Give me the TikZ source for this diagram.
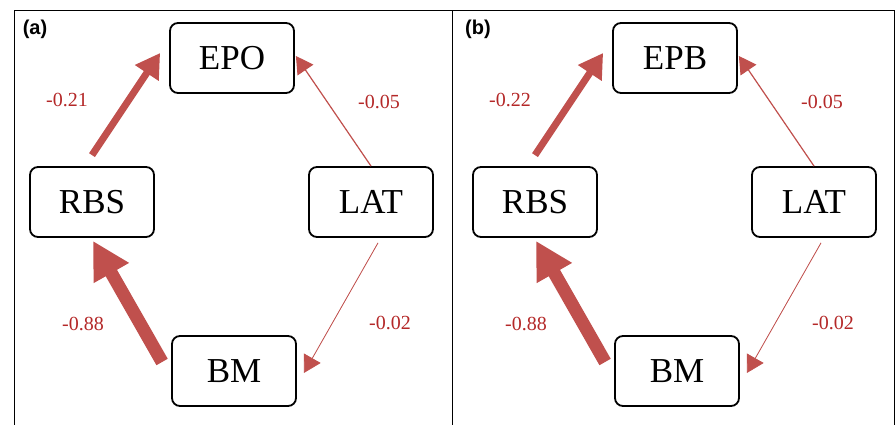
\documentclass[tikz,border=0pt]{standalone}
\usepackage{fontspec}
\setmainfont{Liberation Serif}
\newfontfamily\panelfont{Liberation Sans}
\usetikzlibrary{arrows.meta,positioning}
\definecolor{pathred}{RGB}{192,80,77}
\definecolor{coefred}{RGB}{180,40,40}

\begin{document}
\begin{tikzpicture}[x=1pt,y=1pt,
	var/.style={draw,rounded corners=8pt,line width=1.8pt,minimum width=124pt,minimum height=70pt,inner sep=0pt,font=\fontsize{35}{40}\selectfont},
	coef/.style={text=coefred,font=\fontsize{20}{24}\selectfont},
	link/.style={draw=pathred,fill=pathred}]
	\useasboundingbox (0,0) rectangle (896,425);
	% frame
	\draw[line width=1pt] (14,0) -- (14,414) -- (894,414) -- (894,0);
	\draw[line width=1pt] (452,414) -- (452,0);
	\foreach \p/\dx/\outc/\wa in {a/0/EPO/-0.21, b/443/EPB/-0.22}
	{
		\begin{scope}[xshift=\dx pt]
			\node[font=\panelfont\bfseries\fontsize{20}{22}\selectfont] (tag\p) at (35,396) {(\p)};
			\node[var] (out\p) at (232,367) {\outc};
			\node[var] (rbs\p) at (92,223) {RBS};
			\node[var] (lat\p) at (371,223) {LAT};
			\node[var] (bm\p) at (234,54) {BM};
			\draw[link,line width=7pt,-{Triangle[length=24pt,width=27pt]}] ([yshift=11pt]rbs\p.north) -- ([xshift=-9pt,yshift=5pt]out\p.west);
			\draw[link,line width=1.2pt,-{Triangle[length=17pt,width=19pt]}] (lat\p.north) -- ([xshift=1pt,yshift=2pt]out\p.east);
			\draw[link,line width=13pt,-{Triangle[length=37pt,width=38pt]}] ([xshift=-9pt,yshift=9pt]bm\p.west) -- ([xshift=1pt,yshift=-3pt]rbs\p.south);
			\draw[link,line width=0.8pt,-{Triangle[length=17pt,width=19pt]}] ([xshift=7pt,yshift=-5pt]lat\p.south) -- ([xshift=7pt,yshift=-2pt]bm\p.east);
			\node[coef] (w1\p) at (67,325) {\wa};
			\node[coef] (w2\p) at (379,323) {-0.05};
			\node[coef] (w3\p) at (83,101) {-0.88};
			\node[coef] (w4\p) at (390,102) {-0.02};
		\end{scope}
	}
\end{tikzpicture}
\end{document}
